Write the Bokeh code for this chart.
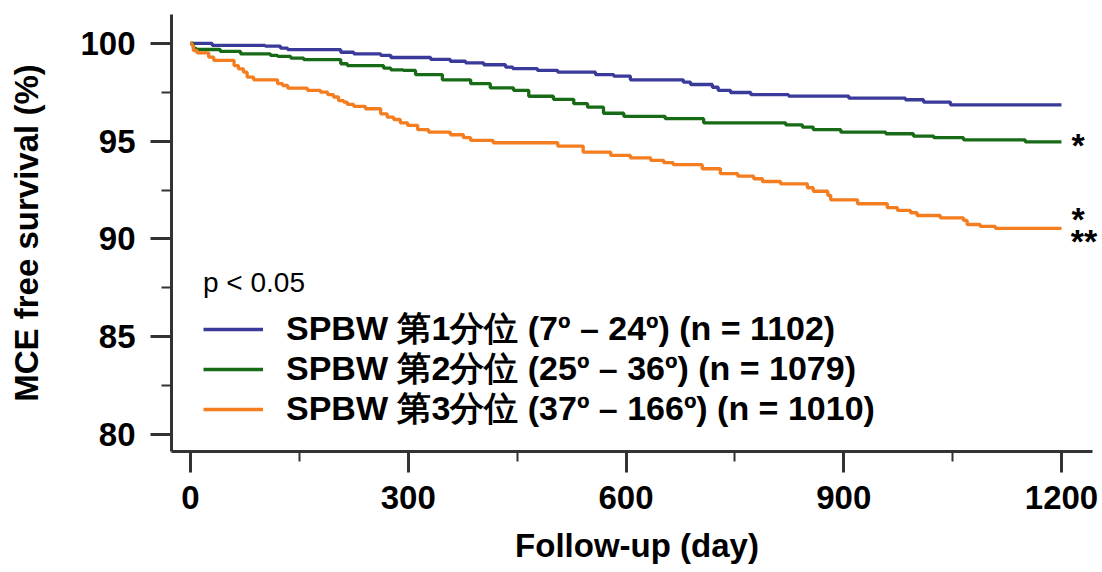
from bokeh.plotting import figure
from bokeh.models import Range1d, FixedTicker, Legend, LegendItem, Label
from bokeh.embed import file_html
from bokeh.resources import INLINE

# Kaplan-Meier step data (day of event, survival % after the event)
days_q1 = [0, 30, 103, 124, 134, 207, 225, 262, 276, 331, 358, 379, 404, 434, 444, 478, 506,
           558, 583, 606, 679, 689, 719, 727, 744, 772, 824, 907, 985, 1010, 1047, 1200]
surv_q1 = [100.0, 99.90, 99.86, 99.76, 99.68, 99.55, 99.47, 99.39, 99.28, 99.18, 99.09, 99.01,
           98.91, 98.79, 98.71, 98.62, 98.53, 98.41, 98.33, 98.14, 98.02, 97.90, 97.76, 97.60,
           97.49, 97.38, 97.31, 97.20, 97.12, 97.00, 96.86, 96.86]

days_q2 = [0, 4, 8, 41, 69, 110, 120, 138, 156, 207, 216, 266, 276, 293, 310, 347, 386, 413,
           445, 466, 500, 528, 547, 569, 597, 654, 707, 820, 843, 858, 896, 958, 996, 1024,
           1065, 1150, 1200]
surv_q2 = [100.0, 99.74, 99.69, 99.59, 99.47, 99.39, 99.34, 99.25, 99.17, 98.96, 98.87, 98.74,
           98.65, 98.62, 98.41, 98.14, 97.94, 97.73, 97.60, 97.30, 97.14, 96.92, 96.74, 96.43,
           96.27, 96.15, 95.94, 95.84, 95.72, 95.59, 95.46, 95.38, 95.26, 95.18, 95.07, 94.97,
           94.97]

days_q3 = [0, 2, 4, 9, 25, 32, 60, 66, 73, 78, 87, 120, 127, 134, 161, 179, 189, 197, 204, 211,
           216, 225, 241, 262, 271, 280, 289, 299, 313, 328, 358, 376, 386, 417, 506, 541, 579,
           606, 634, 652, 665, 705, 730, 754, 776, 788, 813, 850, 858, 878, 882, 919, 960, 974,
           992, 1001, 1033, 1065, 1070, 1088, 1109, 1200]
surv_q3 = [100.0, 99.90, 99.64, 99.52, 99.30, 99.13, 98.87, 98.70, 98.53, 98.28, 98.14, 97.94,
           97.85, 97.71, 97.60, 97.51, 97.38, 97.26, 97.08, 97.00, 96.88, 96.78, 96.66, 96.40,
           96.23, 96.11, 95.94, 95.81, 95.59, 95.46, 95.33, 95.18, 95.04, 94.92, 94.75, 94.44,
           94.27, 94.15, 94.02, 93.90, 93.80, 93.59, 93.34, 93.21, 93.08, 92.94, 92.82, 92.62,
           92.44, 92.23, 92.00, 91.80, 91.60, 91.46, 91.34, 91.20, 91.08, 90.95, 90.74, 90.64,
           90.54, 90.54]

series_labels = ["SPBW 第1分位 (7º – 24º) (n = 1102)",
                 "SPBW 第2分位 (25º – 36º) (n = 1079)",
                 "SPBW 第3分位 (37º – 166º) (n = 1010)"]
series_colors = ["#3a3a9a", "#176b17", "#f47d20"]
x_ticks = [0, 300, 600, 900, 1200]
x_minor = [150, 450, 750, 1050]
y_ticks = [80, 85, 90, 95, 100]
y_minor = [82.5, 87.5, 92.5, 97.5]
title_text = "p < 0.05"

FONT = "'Liberation Sans', 'Noto Sans CJK JP'"
LEGEND_FONT = "Liberation Sans"
AXIS_COLOR = "#333333"
X_START, X_AXIS_END, X_FRAME_END = -26.2, 1242.7, 1256.5

p = figure(width=1102, height=572, output_backend="svg", toolbar_location=None,
           x_range=Range1d(X_START, X_FRAME_END), y_range=Range1d(79.13, 101.48),
           min_border_left=171, min_border_right=0, min_border_top=14, min_border_bottom=121)
p.outline_line_color = None
p.xgrid.grid_line_color = None
p.ygrid.grid_line_color = None
p.background_fill_color = "white"
p.border_fill_color = "white"

renderers = []
for d, s, c in zip([days_q1, days_q2, days_q3], [surv_q1, surv_q2, surv_q3], series_colors):
    r = p.step(d, s, mode="after", line_width=3.3, line_color=c)
    renderers.append(r)

for ax, ticks, minor in [(p.xaxis[0], x_ticks, x_minor), (p.yaxis[0], y_ticks, y_minor)]:
    ax.ticker = FixedTicker(ticks=ticks, minor_ticks=minor)
    ax.axis_line_width = 3
    ax.axis_line_color = AXIS_COLOR
    ax.major_tick_line_width = 3
    ax.major_tick_line_color = AXIS_COLOR
    ax.minor_tick_line_width = 2
    ax.minor_tick_line_color = AXIS_COLOR
    ax.major_tick_out = 21
    ax.major_tick_in = 0
    ax.minor_tick_out = 10
    ax.minor_tick_in = 0
    ax.major_label_text_font = FONT
    ax.major_label_text_font_size = "33px"
    ax.major_label_text_font_style = "bold"
    ax.major_label_text_color = "black"
    ax.axis_label_text_font = FONT
    ax.axis_label_text_font_size = "33px"
    ax.axis_label_text_font_style = "bold"
    ax.axis_label_text_color = "black"

p.xaxis.bounds = (X_START, X_AXIS_END)
p.xaxis.axis_label = "Follow-up (day)"
p.yaxis.axis_label = "MCE free survival (%)"
p.xaxis.major_label_standoff = 13
p.yaxis.major_label_standoff = 15
p.xaxis.axis_label_standoff = 15
p.yaxis.axis_label_standoff = 32

# one legend block per row so the row pitch matches the reference (40 px)
row_offsets = [99, 59, 19]
for i, (lab, r, off) in enumerate(zip(series_labels, renderers, row_offsets)):
    legend = Legend(items=[LegendItem(label=lab, renderers=[r])],
                    location=(32, off),
                    label_text_font=LEGEND_FONT, label_text_font_size="34px",
                    label_text_font_style="bold", label_text_color="black", label_standoff=23,
                    glyph_width=60, glyph_height=40, label_height=40, spacing=0,
                    padding=0, margin=0, border_line_color=None, background_fill_alpha=0)
    if i == 0:
        legend.title = title_text
        legend.title_text_font = LEGEND_FONT
        legend.title_text_font_size = "28px"
        legend.title_text_font_style = "normal"
        legend.title_text_color = "black"
        legend.title_standoff = 7
    p.add_layout(legend, "center")

star_font_size = "34px"
for x, y, t in [(1223, 94.80, "*"), (1223, 91.02, "*"), (1231, 89.92, "**")]:
    p.add_layout(Label(x=x, y=y, text=t, text_align="center", text_baseline="middle",
                       text_font=FONT, text_font_size=star_font_size, text_font_style="bold",
                       text_color="black"))

open("out.html", "w").write(file_html(p, INLINE))
